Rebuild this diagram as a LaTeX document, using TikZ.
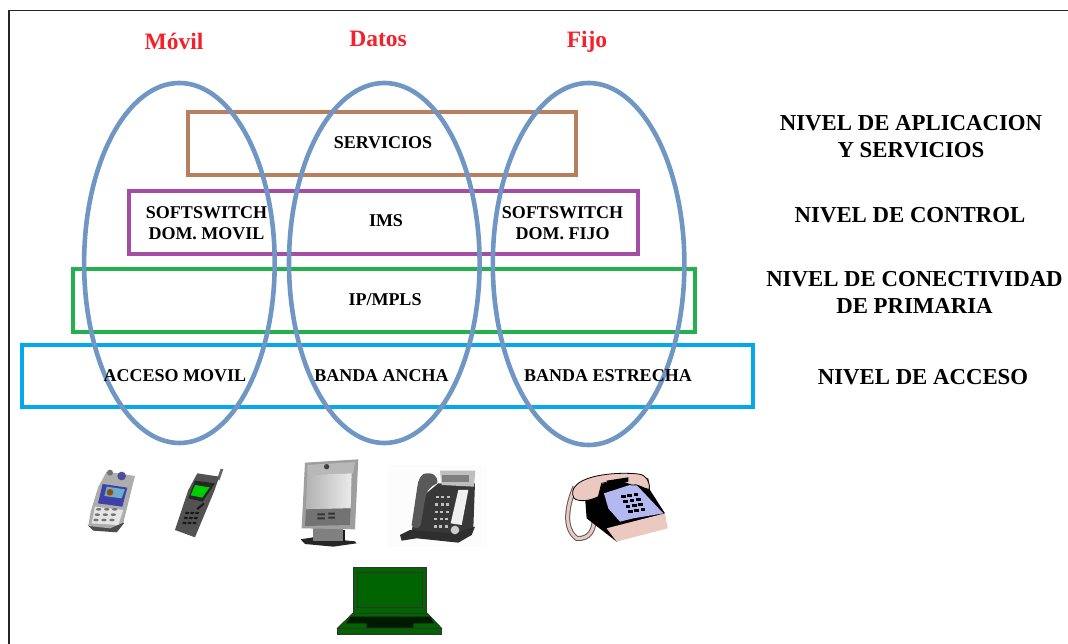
\documentclass[tikz,border=0pt]{standalone}
\usepackage{fontspec}
\setmainfont{Liberation Serif}
\definecolor{ovalblue}{HTML}{7097C4}
\definecolor{srvbrown}{HTML}{B77F5E}
\definecolor{ctlpurple}{HTML}{A54CA5}
\definecolor{ipgreen}{HTML}{22B14C}
\definecolor{accblue}{HTML}{05A8EA}
\definecolor{redlab}{HTML}{F5202A}
\definecolor{lapgreen}{HTML}{006400}
\definecolor{pinkph}{HTML}{EBC8C0}
\definecolor{lilac}{HTML}{B4B8F0}
\tikzset{
  oval/.style={draw=ovalblue,line width=4.6pt},
  band/.style={line width=4pt,inner sep=0pt},
  cell/.style={font=\fontsize{18}{21}\selectfont\bfseries,align=center,inner sep=0pt,text=black},
  level/.style={font=\fontsize{22.8}{27}\selectfont\bfseries,align=center,inner sep=0pt,text=black},
  head/.style={font=\fontsize{23.5}{26}\selectfont\bfseries,inner sep=0pt,text=redlab},
  zoomone/.style={xshift=60pt,yshift=-450pt,x=.3333pt,y=-.3333pt},
  zoomtwo/.style={xshift=330pt,yshift=-450pt,x=.3333pt,y=-.3333pt},
}
\begin{document}
\begin{tikzpicture}[x=1pt,y=-1pt]
\useasboundingbox (0,0) rectangle (1068,644);
\fill[white] (0,0) rectangle (1068,644);
% frame
\draw[black!85,line width=1.8pt] (9,644) -- (9,10.5) -- (1068,10.5);
% bands
\node[draw=srvbrown,band,minimum width=387.5pt,minimum height=63pt] (srv) at (381.8,143.5) {};
\node[draw=ctlpurple,band,minimum width=509.3pt,minimum height=63.3pt] (ctl) at (383.7,222.7) {};
\node[draw=ipgreen,band,minimum width=622pt,minimum height=63.3pt] (ipb) at (384.3,300.3) {};
\node[draw=accblue,band,minimum width=731.3pt,minimum height=62.3pt] (acc) at (387.3,376.2) {};
% ovals
\draw[oval] (179.4,263) ellipse [x radius=95.3,y radius=180];
\draw[oval] (384.3,263) ellipse [x radius=95.3,y radius=180];
\draw[oval] (588.6,264) ellipse [x radius=95.8,y radius=181];
% heads
\node[head] (hm) at (174,41) {Móvil};
\node[head] (hd) at (378,39) {Datos};
\node[head] (hf) at (587,42) {Fijo};
% cells
\node[cell] (c1) at (383,143) {SERVICIOS};
\node[cell] (c2) at (206.5,223) {SOFTSWITCH\\DOM. MOVIL};
\node[cell] (c3) at (386,221) {IMS};
\node[cell] (c4) at (562.5,223) {SOFTSWITCH\\DOM. FIJO};
\node[cell] (c5) at (385,300) {IP/MPLS};
\node[cell] (c6) at (175,376) {ACCESO MOVIL};
\node[cell] (c7) at (381.5,376) {BANDA ANCHA};
\node[cell] (c8) at (608,376) {BANDA ESTRECHA};
% levels
\node[level] (l1) at (911,137) {NIVEL DE APLICACION\\Y SERVICIOS};
\node[level] (l2) at (910,215) {NIVEL DE CONTROL};
\node[level] (l3) at (914.5,292) {NIVEL DE CONECTIVIDAD\\DE PRIMARIA};
\node[level] (l4) at (923,377) {NIVEL DE ACCESO};
% silver mobile
\begin{scope}[zoomone]
\fill[black!70] (83,225) -- (100,242) -- (170,247) -- (192,220) -- (180,205) -- cycle;
\fill[black!32] (140,65) -- (225,78) -- (215,118) -- (190,218) -- (150,235) -- (85,228) -- (92,185) -- (115,110) -- cycle;
\fill[black!55] (150,68) circle (9);
\fill[blue!45!black!70] (185,78) circle (13);
\fill[black!10] (105,170) -- (190,180) -- (175,225) -- (95,220) -- cycle;
\fill[blue!55!black!75] (128,102) -- (202,113) -- (187,170) -- (114,160) -- cycle;
\fill[cyan!70!black!70] (140,110) -- (195,118) -- (185,145) -- (133,138) -- cycle;
\fill[orange!60!black] (150,127) circle (10);
\foreach \a in {0,1,2} \foreach \b in {0,1,2}
  \fill[black!55] (116+\a*24-\b*4,178+\b*16) ellipse (8 and 4);
\end{scope}
% dark mobile
\begin{scope}[zoomone]
\fill[black!60] (472,85) -- (482,56) -- (490,58) -- (478,92) -- cycle;
\fill[black!68] (412,70) -- (478,80) -- (462,125) -- (405,262) -- (345,240) -- (385,120) -- cycle;
\fill[black!85] (405,92) -- (465,100) -- (428,155) -- (385,145) -- cycle;
\fill[green!80!black] (405,105) -- (449,112) -- (427,143) -- (392,136) -- cycle;
\foreach \a in {0,1,2} \foreach \b in {0,1,2}
  \fill[black!90] (378+\a*15-\b*4,185+\b*15) -- ++(10,2) -- ++(-3,6) -- ++(-10,-2) -- cycle;
\fill[black!90] (410,175) -- (430,158) -- (434,162) -- (414,180) -- cycle;
\end{scope}
% monitor
\begin{scope}[zoomone]
\fill[black!85] (722,268) -- (760,262) -- (885,274) -- (890,280) -- (820,290) -- (735,282) -- cycle;
\fill[black!50] (760,235) rectangle (850,272);
\fill[black!90] (850,240) rectangle (856,275);
\fill[black!38] (735,38) -- (895,28) -- (885,238) -- (725,235) -- cycle;
\fill[black!28] (742,45) -- (885,36) -- (880,70) -- (742,75) -- cycle;
\fill[black!75] (800,50) circle (8);
\shade[left color=black!30,right color=black!8] (742,75) -- (875,70) -- (872,175) -- (738,178) -- cycle;
\fill[black!55] (738,178) -- (872,175) -- (870,225) -- (735,228) -- cycle;
\fill[black!80] (772,190) rectangle (795,196) (805,188) rectangle (825,194) (772,202) rectangle (795,208) (805,200) rectangle (825,206);
\end{scope}
% office phone
\begin{scope}[zoomtwo]
\fill[black!1] (170,45) rectangle (470,290);
\fill[black!78] (325,100) -- (435,100) -- (430,235) -- (405,262) -- (380,275) -- (300,260) -- (240,265) -- (265,150) -- cycle;
\fill[black!82] (210,255) -- (240,240) -- (300,245) -- (375,250) -- (435,230) -- (425,255) -- (385,278) -- (260,265) -- (215,272) -- cycle;
\fill[black!65] (280,72) .. controls (305,65) and (325,75) .. (322,100) .. controls (300,110) and (290,120) .. (285,150) -- (272,225) .. controls (265,240) and (250,235) .. (245,225) -- (262,110) .. controls (265,90) and (270,80) .. cycle;
\fill[black!25] (330,62) -- (436,62) -- (432,110) -- (335,105) -- cycle;
\fill[black!50] (337,75) rectangle (418,97);
\fill[black!6] (385,120) -- (415,120) -- (395,225) -- (362,220) -- cycle;
\fill[black!20] (375,240) circle (13);
\foreach \a in {0,1,2} \foreach \b in {0,1,2,3,4}
  \fill[black!25] (318+\a*16-\b*1.5,138+\b*22) rectangle ++(9,7);
\end{scope}
% old phone
\begin{scope}[zoomtwo]
\draw[black!65,line width=5pt] (735,110) .. controls (710,170) and (700,235) .. (740,265) .. controls (775,270) and (800,240) .. (790,190);
\draw[pinkph,line width=3pt] (735,110) .. controls (710,170) and (700,235) .. (740,265) .. controls (775,270) and (800,240) .. (790,190);
\fill[black] (765,140) -- (820,100) -- (955,85) -- (960,120) -- (1005,190) -- (860,275) -- (770,205) -- cycle;
\fill[pinkph] (830,235) -- (1005,190) -- (1013,235) -- (860,275) -- cycle;
\fill[lilac] (822,130) -- (915,100) -- (1000,190) -- (910,205) -- (870,215) -- (835,175) -- cycle;
\foreach \a in {0,1,2} \foreach \b in {0,1,2,3}
  \fill[black] (873+\a*19+\b*7,135+\b*15-\a*3) rectangle ++(14,9);
\fill[pinkph,draw=black,line width=.8pt] (735,110) .. controls (760,75) and (860,65) .. (925,72) .. controls (950,75) and (960,95) .. (958,118) .. controls (935,115) and (925,100) .. (905,105) -- (860,90) -- (815,100) -- (805,140) .. controls (775,155) and (745,155) .. (732,145) .. controls (725,130) and (728,118) .. cycle;
\fill[black] (830,92) -- (895,82) -- (895,95) -- (835,108) -- cycle;
\end{scope}
% laptop
\begin{scope}[zoomtwo]
\fill[lapgreen,draw=black!80,line width=.8pt] (70,352) rectangle (290,490);
\draw[black!80,line width=1.4pt] (82,367) rectangle (277,472);
\fill[lapgreen,draw=black!80,line width=.8pt] (68,490) -- (292,490) -- (335,535) -- (22,535) -- cycle;
\fill[black!75!lapgreen] (62,500) -- (300,500) -- (312,520) -- (250,520) -- (250,533) -- (110,533) -- (110,520) -- (48,520) -- cycle;
\fill[lapgreen,draw=black!80,line width=.8pt] (22,535) rectangle (335,553);
\end{scope}
\end{tikzpicture}
\end{document}
